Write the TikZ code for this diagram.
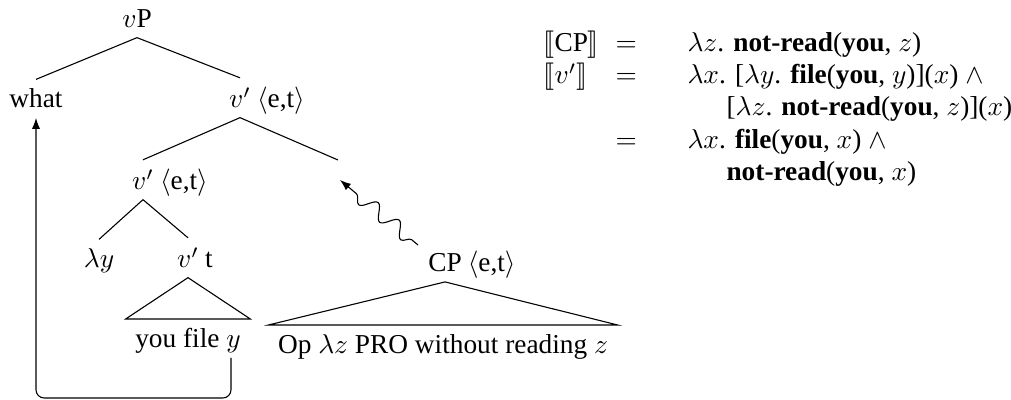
\documentclass[tikz,border=0pt]{standalone}
\usepackage{amsmath,amssymb}
\usepackage{stmaryrd}
\usepackage{fontspec}
\setmainfont{Liberation Serif}
\usetikzlibrary{arrows.meta, decorations.pathmorphing}

\begin{document}
\begin{tikzpicture}[x=0.366pt, y=-0.366pt,
    cat/.style={anchor=base},
    typ/.style={anchor=base west, inner sep=0pt, xshift=-1.5pt},
    eqline/.style={anchor=base west, inner sep=0pt},
    move/.style={-{Latex[length=4pt,width=3pt]}, rounded corners=3pt},
    wavy/.style={-{Latex[length=4pt,width=3pt]}, decorate,
        decoration={snake, amplitude=2.6pt, segment length=10pt, pre length=3pt, post length=4pt}}]

    \useasboundingbox (0,0) rectangle (1011,400);

    % Top of the tree
    \node[cat] (vP) at (137,28) {$v$P};
    \node[cat] (what) at (36,108) {what};
    \node[cat] (vbarA) at (240,108) {$v'$};
    \node[typ] (vbarAtype) at (vbarA.base east) {$\langle$e,t$\rangle$};
    \draw (vP.south) -- (what.north);
    \draw (vP.south) -- (vbarA.north);

    % Lower v' and the empty slot of the CP
    \node[cat] (vbarB) at (143,190) {$v'$};
    \node[typ] (vbarBtype) at (vbarB.base east) {$\langle$e,t$\rangle$};
    \coordinate (gap) at (338,160);
    \draw (vbarA.south) -- (vbarB.north);
    \draw (vbarA.south) -- (gap);

    % Lambda abstraction and the inner v'
    \node[cat] (lam) at (99,268) {$\lambda y$};
    \node[cat] (vbarC) at (188,268) {$v'$};
    \node[typ] (vbarCtype) at (vbarC.base east) {t};
    \draw (vbarB.south) -- (lam.north);
    \draw (vbarB.south) -- (vbarC.north);

    % Roof over "you file y"
    \node[anchor=north] (yf) at (188,319) {you file $y$};
    \draw (vbarC.south) -- (yf.north west) -- (yf.north east) -- cycle;

    % The adjunct CP with its roof
    \node[cat] (cp) at (445,272) {CP};
    \node[typ] (cptype) at (cp.base east) {$\langle$e,t$\rangle$};
    \node[anchor=north] (op) at (443,325) {Op $\lambda z$ PRO without reading $z$};
    \draw (cp.south) -- (op.north west) -- (op.north east) -- cycle;

    % Movement of what, and the wavy arrow from the CP
    \coordinate (ytrace) at (231,358);
    \draw[move] (ytrace) -- ++(0,40) -| (what.south);
    \coordinate (wstart) at (418,245);
    \coordinate (gaptip) at (340,180);
    \draw[wavy] (wstart) -- (gaptip);

    % Denotations
    \node[eqline] (lhsA) at (543,52) {$\llbracket$CP$\rrbracket$};
    \node[eqline] (eqA) at (615,52) {$=$};
    \node[eqline] (rhsA) at (687,52) {$\lambda z$. \textbf{not-read}(\textbf{you}, $z$)};
    \node[eqline] (lhsB) at (543,84) {$\llbracket v'\rrbracket$};
    \node[eqline] (eqB) at (615,84) {$=$};
    \node[eqline] (rhsB) at (687,84) {$\lambda x$. [$\lambda y$. \textbf{file}(\textbf{you}, $y$)]($x$) $\wedge$};
    \node[eqline] (rhsC) at (726,116) {[$\lambda z$. \textbf{not-read}(\textbf{you}, $z$)]($x$)};
    \node[eqline] (eqD) at (615,149) {$=$};
    \node[eqline] (rhsD) at (687,149) {$\lambda x$. \textbf{file}(\textbf{you}, $x$) $\wedge$};
    \node[eqline] (rhsE) at (726,181) {\textbf{not-read}(\textbf{you}, $x$)};

\end{tikzpicture}
\end{document}
